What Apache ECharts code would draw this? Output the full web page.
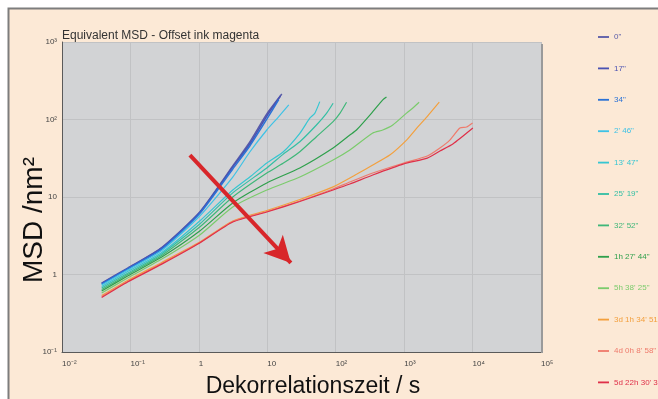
<!DOCTYPE html>
<html>
<head>
<meta charset="utf-8">
<script src="https://cdn.jsdelivr.net/npm/echarts@6/dist/echarts.min.js"></script>
<style>
  html, body { margin: 0; padding: 0; background: #ffffff; }
  #chart { width: 658px; height: 399px; }
</style>
</head>
<body>
<div id="chart"></div>
<script>
// Ageing times of the ink film (legend entries)
const ageLabels = ['0"', '17"', '34"', "2' 46\"", "13' 47\"", "25' 19\"", "32' 52\"",
  "1h 27' 44\"", "5h 38' 25\"", "3d 1h 34' 51\"", "4d 0h 8' 58\"", "5d 22h 30' 37\""];
const ageColors = ['#5a5ca8', '#4a52b2', '#2b72d6', '#3ec2e6', '#36c6d2', '#34bfa4',
  '#3fb779', '#2fa04c', '#7bcb6c', '#f3a03e', '#ef7b6c', '#df3049'];

// Decorrelation time t [s] and equivalent MSD [nm^2] per ageing time
const t_0s    = [0.038, 0.091, 0.287, 1.03, 3.13, 5.55, 9.84, 16.3];
const msd_0s  = [0.776, 1.21, 2.23, 6.40, 25.1, 51.3, 118, 213];
const t_17s   = [0.038, 0.091, 0.287, 1.03, 3.13, 5.55, 9.84, 15.6];
const msd_17s = [0.766, 1.19, 2.20, 6.31, 24.4, 48.3, 111, 201];
const t_34s   = [0.038, 0.091, 0.287, 1.03, 3.13, 5.55, 9.84, 14.7];
const msd_34s = [0.753, 1.18, 2.13, 6.12, 23.0, 45.5, 101, 181];
const t_2m46   = [0.038, 0.091, 0.287, 1.03, 3.13, 5.55, 9.84, 14.6, 20.6];
const msd_2m46 = [0.733, 1.14, 2.04, 5.69, 18.1, 38.1, 73.2, 108, 154];
const t_13m47   = [0.038, 0.091, 0.287, 1.03, 3.13, 5.55, 9.84, 17.0, 29.9, 41.8, 49.4, 58.5];
const msd_13m47 = [0.700, 1.09, 1.92, 4.90, 12.3, 18.1, 27.5, 38.1, 66.4, 104, 120, 170];
const t_25m19   = [0.038, 0.091, 0.287, 1.03, 3.13, 9.84, 17.0, 29.9, 52.3, 73.3, 91.6];
const msd_25m19 = [0.670, 1.04, 1.84, 4.48, 11.3, 23.7, 35.5, 51.7, 84.9, 120, 162];
const t_32m52   = [0.038, 0.091, 0.287, 1.03, 3.13, 9.84, 17.0, 29.9, 52.3, 91.6, 115, 144];
const msd_32m52 = [0.640, 1.00, 1.76, 4.10, 10.0, 20.4, 27.2, 38.4, 60.0, 93.7, 120, 167];
const t_1h27   = [0.038, 0.091, 0.287, 1.03, 3.13, 9.84, 29.9, 91.6, 161, 201, 348, 487, 552];
const msd_1h27 = [0.612, 0.957, 1.68, 3.64, 8.37, 15.2, 23.7, 42.9, 63.1, 73.2, 126, 179, 195];
const t_5h38   = [0.038, 0.091, 0.287, 1.03, 3.13, 9.84, 29.9, 91.6, 161, 348, 487, 682, 1084, 1340, 1656];
const msd_5h38 = [0.577, 0.902, 1.58, 3.24, 7.43, 12.3, 18.1, 30.0, 40.4, 67.0, 73.2, 84.9, 121, 141, 167];
const t_3d1h   = [0.038, 0.091, 0.287, 1.03, 3.13, 9.84, 29.9, 91.6, 161, 201, 348, 617, 1084, 1517, 2170, 3260];
const msd_3d1h = [0.536, 0.838, 1.43, 2.62, 4.90, 6.70, 9.29, 13.5, 17.6, 19.6, 25.9, 34.8, 54.3, 76.9, 109, 167];
const t_4d0h   = [0.038, 0.091, 0.287, 1.03, 3.13, 9.84, 29.9, 91.6, 161, 348, 988, 2180, 3330, 4650, 6530, 8170, 10000];
const msd_4d0h = [0.520, 0.813, 1.39, 2.59, 4.83, 6.50, 8.87, 12.7, 15.6, 20.4, 27.5, 33.8, 42.9, 54.3, 77.6, 80.0, 90.2];
const t_5d22h   = [0.038, 0.091, 0.287, 1.03, 3.13, 9.84, 29.9, 91.6, 161, 348, 988, 2180, 3330, 5150, 10100];
const msd_5d22h = [0.505, 0.800, 1.36, 2.55, 4.75, 6.40, 8.75, 12.3, 14.7, 19.2, 26.7, 31.8, 39.2, 48.3, 77.6];

const timeSets = [t_0s, t_17s, t_34s, t_2m46, t_13m47, t_25m19, t_32m52, t_1h27, t_5h38, t_3d1h, t_4d0h, t_5d22h];
const msdSets  = [msd_0s, msd_17s, msd_34s, msd_2m46, msd_13m47, msd_25m19, msd_32m52, msd_1h27, msd_5h38, msd_3d1h, msd_4d0h, msd_5d22h];

// Decade tick labels
const xTickLabels = ['10⁻²', '10⁻¹', '1', '10', '10²', '10³', '10⁴', '10⁵'];
const yTickLabels = ['10⁻¹', '1', '10', '10²', '10³'];

// Trend arrow (ageing direction), start and tip in data coordinates
const arrowFrom = [0.74, 34.8];
const arrowTo = [22.1, 1.41];

const FONT = '"Liberation Sans", Arial, sans-serif';
const chart = echarts.init(document.getElementById('chart'), null, { renderer: 'canvas' });

const series = ageLabels.map((name, i) => ({
  name: name,
  type: 'line',
  data: timeSets[i].map((t, k) => [t, msdSets[i][k]]),
  symbol: 'none',
  smooth: 0.2,
  lineStyle: { color: ageColors[i], width: i < 3 ? 1.5 : 1.2 },
  itemStyle: { color: ageColors[i] },
  z: 3,
  silent: true
}));

series[series.length - 1].markLine = {
  silent: true,
  symbol: ['none', 'arrow'],
  symbolSize: [20, 26],
  label: { show: false },
  lineStyle: { color: '#d8262a', width: 4, type: 'solid' },
  data: [[{ coord: arrowFrom }, { coord: arrowTo }]],
  z: 10
};

chart.setOption({
  backgroundColor: '#fce9d6',
  animation: false,
  title: {
    text: 'Equivalent MSD - Offset ink magenta',
    left: 62, top: 30, padding: 0,
    textStyle: { fontSize: 12, fontWeight: 'normal', color: '#333', fontFamily: FONT }
  },
  grid: {
    left: 62, top: 42, right: 117, bottom: 47,
    show: true, backgroundColor: '#d2d3d5', borderWidth: 0
  },
  legend: {
    orient: 'vertical',
    left: 598, top: 32, padding: 0,
    itemWidth: 11, itemHeight: 10, itemGap: 21.4,
    icon: 'path://M0,0h12v2h-12z',
    selectedMode: false,
    textStyle: { fontSize: 8, lineHeight: 10, fontFamily: FONT },
    data: ageLabels.map((n, i) => ({ name: n, textStyle: { color: ageColors[i] }, itemStyle: { color: ageColors[i] } }))
  },
  xAxis: {
    type: 'log', logBase: 10, min: 0.01, max: 100000,
    axisLine: { show: true, lineStyle: { color: '#5a5a5a', width: 1 } },
    axisTick: { show: false },
    splitLine: { show: true, lineStyle: { color: '#c1c2c4', width: 1 } },
    axisLabel: {
      align: 'left', margin: 8, fontSize: 8, color: '#444', fontFamily: FONT,
      showMinLabel: true, showMaxLabel: true,
      formatter: v => xTickLabels[Math.round(Math.log10(v)) + 2]
    }
  },
  yAxis: {
    type: 'log', logBase: 10, min: 0.1, max: 1000,
    axisLine: { show: true, lineStyle: { color: '#5a5a5a', width: 1 } },
    axisTick: { show: false },
    splitLine: { show: true, lineStyle: { color: '#c1c2c4', width: 1 } },
    axisLabel: {
      margin: 5, fontSize: 8, color: '#444', fontFamily: FONT,
      padding: [0, 0, 6, 0],
      showMinLabel: true, showMaxLabel: true,
      formatter: v => yTickLabels[Math.round(Math.log10(v)) + 1]
    }
  },
  graphic: [
    { type: 'rect', shape: { x: 0, y: 0, width: 658, height: 8 }, style: { fill: '#ffffff' }, z: 0, silent: true },
    { type: 'rect', shape: { x: 0, y: 0, width: 8, height: 399 }, style: { fill: '#ffffff' }, z: 0, silent: true },
    { type: 'polyline', shape: { points: [[8.5, 400], [8.5, 8.5], [658, 8.5]] },
      style: { stroke: '#7d7d7d', lineWidth: 2, fill: null }, z: 1, silent: true },
    { type: 'line', shape: { x1: 542, y1: 44, x2: 542, y2: 353 },
      style: { stroke: '#9a9a9a', lineWidth: 2 }, z: 1, silent: true },
    { type: 'text', x: 34, y: 220, rotation: Math.PI / 2, z: 20, silent: true,
      style: { text: 'MSD /nm²', font: '28px ' + FONT, fill: '#111', align: 'center', verticalAlign: 'middle' } },
    { type: 'text', x: 313, y: 387, z: 20, silent: true,
      style: { text: 'Dekorrelationszeit / s', font: '23px ' + FONT, fill: '#111', align: 'center', verticalAlign: 'middle' } }
  ],
  series: series
});
</script>
</body>
</html>
